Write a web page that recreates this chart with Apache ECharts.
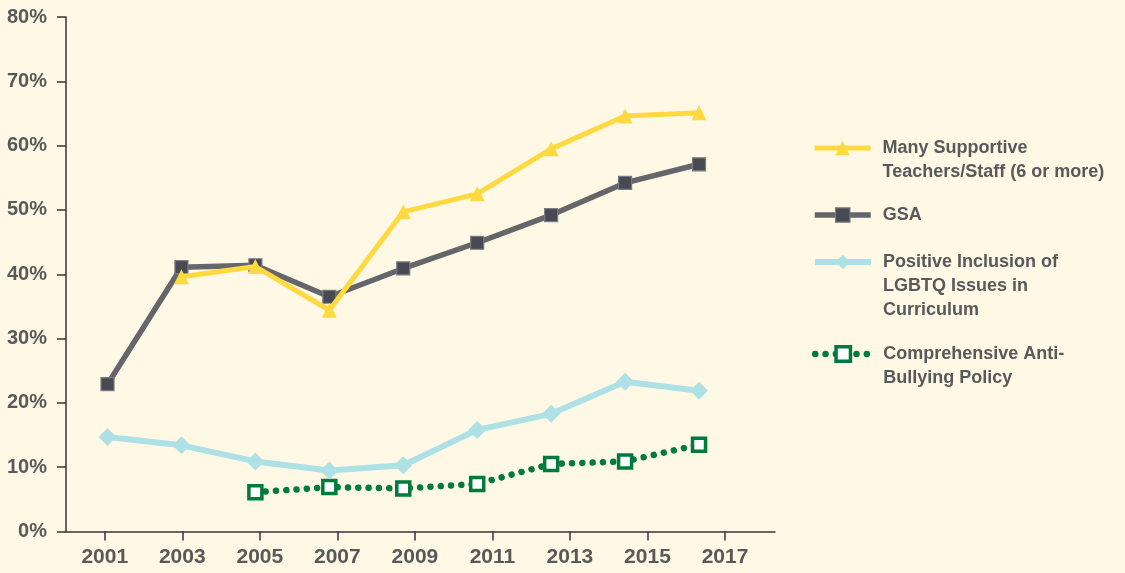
<!DOCTYPE html>
<html>
<head>
<meta charset="utf-8">
<script src="https://cdn.jsdelivr.net/npm/echarts@6/dist/echarts.min.js"></script>
<style>
html,body{margin:0;padding:0;background:#FFF8E5;}
#chart{width:1125px;height:573px;}
</style>
</head>
<body>
<div id="chart"></div>
<script>
// ---- data ----
var years = [2001, 2003, 2005, 2007, 2009, 2011, 2013, 2015, 2017];
var tickYears = [2001, 2003, 2005, 2007, 2009, 2011, 2013, 2015, 2017];
var supportive = [null, 39.6, 41.2, 34.4, 49.7, 52.5, 59.5, 64.6, 65.1];
var gsa = [22.9, 41.1, 41.4, 36.5, 40.9, 44.9, 49.2, 54.2, 57.1];
var inclusion = [14.7, 13.4, 10.9, 9.5, 10.3, 15.8, 18.3, 23.3, 21.9];
var antiBullying = [null, null, 6.1, 6.9, 6.7, 7.4, 10.5, 10.9, 13.5];
var seriesNames = [
  'Many Supportive\nTeachers/Staff (6 or more)',
  'GSA',
  'Positive Inclusion of\nLGBTQ Issues in\nCurriculum',
  'Comprehensive Anti-\nBullying Policy'
];

function pairs(arr) {
  return years.map(function (y, i) { return [y, arr[i]]; })
              .filter(function (d) { return d[1] != null; });
}

var textColor = '#58595B';
var fontFam = '"Liberation Sans", Arial, sans-serif';

var styles = [
  { line: { color: '#FFD940', width: 5 }, item: { color: '#FFD940' } },
  { line: { color: '#65666B', width: 5.5 }, item: { color: '#474A53', borderColor: '#7A7B80', borderWidth: 1.2 } },
  { line: { color: '#ADE1E5', width: 6 }, item: { color: '#ADE1E5' } },
  { line: { color: '#007A3D', width: 6.5, type: [0.01, 10.3], cap: 'round' }, item: { color: '#FFFFFF', borderColor: '#007A3D', borderWidth: 3.5 } }
];

// centre the icon on the first text line: prepend blank lines
function firstLineCentered(name) {
  var n = name.split('\n').length;
  var pre = '';
  for (var i = 1; i < n; i++) pre += ' \n';
  return pre + name;
}

function legendFor(idx, top) {
  return {
    data: [seriesNames[idx]],
    selectedMode: false,
    orient: 'vertical',
    left: 812,
    top: top,
    padding: 0,
    itemWidth: 56,
    itemHeight: 18,
    formatter: firstLineCentered,
    lineStyle: styles[idx].line,
    itemStyle: styles[idx].item,
    textStyle: {
      color: textColor,
      fontFamily: fontFam,
      fontWeight: 'bold',
      fontSize: 18,
      lineHeight: 24,
      padding: [0, 0, 0, 7]
    }
  };
}

var chart = echarts.init(document.getElementById('chart'));
chart.setOption({
  backgroundColor: '#FFF8E5',
  animation: false,
  grid: { left: 66, right: 350, top: 17, bottom: 41.5, containLabel: false },
  legend: [
    legendFor(0, 112),
    legendFor(1, 203),
    legendFor(2, 202),
    legendFor(3, 318)
  ],
  xAxis: [
    {
      type: 'value',
      min: 2000,
      max: 2018.29,
      axisLine: { show: true, lineStyle: { color: '#3A3535', width: 1.5 } },
      axisTick: { show: true, length: 9, lineStyle: { color: '#3A3535', width: 1.5 }, customValues: tickYears },
      axisLabel: {
        customValues: tickYears,
        formatter: function (v) { return String(Math.round(v)); },
        color: textColor, fontFamily: fontFam, fontWeight: 'bold', fontSize: 21, margin: 15
      },
      splitLine: { show: false }
    },
    {
      type: 'value',
      show: false,
      min: 1999.877,
      max: 2019.055,
      splitLine: { show: false }
    }
  ],
  yAxis: {
    type: 'value',
    min: 0,
    max: 80,
    interval: 10,
    axisLine: { show: true, lineStyle: { color: '#3A3535', width: 1.5 } },
    axisTick: { show: true, length: 9, lineStyle: { color: '#3A3535', width: 1.5 } },
    axisLabel: {
      formatter: '{value}%',
      color: textColor, fontFamily: fontFam, fontWeight: 'bold', fontSize: 20, margin: 19
    },
    splitLine: { show: false }
  },
  series: [
    {
      name: seriesNames[3],
      type: 'line',
      xAxisIndex: 1,
      data: pairs(antiBullying),
      symbol: 'rect',
      symbolSize: 13,
      lineStyle: styles[3].line,
      itemStyle: styles[3].item,
      z: 2
    },
    {
      name: seriesNames[2],
      type: 'line',
      xAxisIndex: 1,
      data: pairs(inclusion),
      symbol: 'diamond',
      symbolSize: 18,
      lineStyle: styles[2].line,
      itemStyle: styles[2].item,
      z: 3
    },
    {
      name: seriesNames[1],
      type: 'line',
      xAxisIndex: 1,
      data: pairs(gsa),
      symbol: 'rect',
      symbolSize: 13,
      lineStyle: styles[1].line,
      itemStyle: styles[1].item,
      z: 4
    },
    {
      name: seriesNames[0],
      type: 'line',
      xAxisIndex: 1,
      data: pairs(supportive),
      symbol: 'triangle',
      symbolSize: 15,
      lineStyle: styles[0].line,
      itemStyle: styles[0].item,
      z: 5
    }
  ]
});
</script>
</body>
</html>
